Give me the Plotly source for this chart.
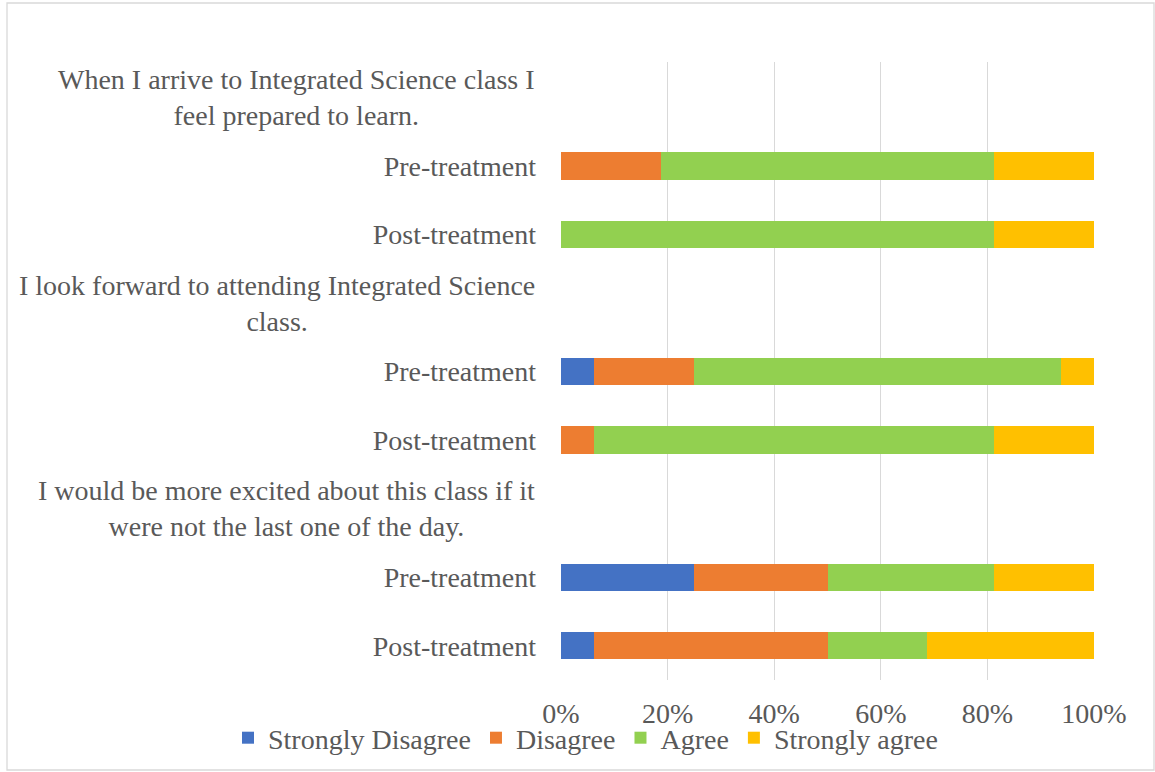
import plotly.graph_objects as go

# Row ids (top to bottom), their tick labels, and question annotations
row_ids = ["Q1", "Q1 Pre", "Q1 Post", "Q2", "Q2 Pre", "Q2 Post", "Q3", "Q3 Pre", "Q3 Post"]
row_labels = ["", "Pre-treatment", "Post-treatment",
              "", "Pre-treatment", "Post-treatment",
              "", "Pre-treatment", "Post-treatment"]
question_ids = ["Q1", "Q2", "Q3"]
question_texts = [
    "When I arrive to Integrated Science class I<br>feel prepared to learn.",
    "I look forward to attending Integrated Science<br>class.",
    "I would be more excited about this class if it<br>were not the last one of the day.",
]

series_names = ["Strongly Disagree", "Disagree", "Agree", "Strongly agree"]
series_colors = ["#4472C4", "#ED7D31", "#92D050", "#FFC000"]

# Shares per row (question header rows have no bars)
strongly_disagree = [None, 0.0, 0.0, None, 0.0625, 0.0, None, 0.25, 0.0625]
disagree = [None, 0.1875, 0.0, None, 0.1875, 0.0625, None, 0.25, 0.4375]
agree = [None, 0.625, 0.8125, None, 0.6875, 0.75, None, 0.3125, 0.1875]
strongly_agree = [None, 0.1875, 0.1875, None, 0.0625, 0.1875, None, 0.1875, 0.3125]
series_values = [strongly_disagree, disagree, agree, strongly_agree]

x_ticks = [0, 0.2, 0.4, 0.6, 0.8, 1.0]

FONT = "Liberation Serif, Times New Roman, serif"
TXT = "#595959"
GRID = "#d9d9d9"

fig = go.Figure()
for name, color, vals in zip(series_names, series_colors, series_values):
    fig.add_trace(go.Bar(
        y=row_ids, x=vals, name=name, orientation="h",
        marker=dict(color=color, line=dict(width=0)),
    ))

W, H = 1155, 772
ml, mr, mt, mb = 561, 61, 62, 92
pw, ph = W - ml - mr, H - mt - mb

annotations = []
for qid, qtxt in zip(question_ids, question_texts):
    annotations.append(dict(
        xref="paper", yref="y", x=(537 - ml) / pw, y=qid,
        text=qtxt, showarrow=False, xanchor="right", yanchor="middle",
        align="center", font=dict(family=FONT, size=28, color=TXT),
    ))

fig.update_layout(
    width=W, height=H,
    margin=dict(l=ml, r=mr, t=mt, b=mb, pad=0, autoexpand=False),
    barmode="stack", bargap=0.6,
    plot_bgcolor="white", paper_bgcolor="white",
    font=dict(family=FONT, size=28, color=TXT),
    xaxis=dict(range=[0, 1], tickvals=x_ticks, tickformat=".0%",
               showgrid=True, gridcolor=GRID, gridwidth=1.3,
               zeroline=False, showline=False, ticks="",
               ticklabelstandoff=14, automargin=False),
    yaxis=dict(categoryorder="array", categoryarray=row_ids,
               tickvals=row_ids, ticktext=row_labels,
               autorange="reversed", showgrid=False, zeroline=False,
               showline=False, ticks="", ticklabelstandoff=24, automargin=False),
    legend=dict(orientation="h", xref="paper", xanchor="left", x=(228 - ml) / pw,
                yref="paper", yanchor="middle", y=-(738 - (mt + ph)) / ph,
                bgcolor="rgba(0,0,0,0)",
                font=dict(family=FONT, size=28, color=TXT),
                itemwidth=30, tracegroupgap=0, traceorder="normal"),
    annotations=annotations,
    shapes=[dict(type="rect", xref="paper", yref="paper",
                 x0=(7 - ml) / pw, x1=(1154 - ml) / pw,
                 y0=-(770 - (mt + ph)) / ph, y1=1 + (mt - 3) / ph,
                 line=dict(color=GRID, width=1.3), layer="below")],
    showlegend=True,
)

fig.write_html("out.html", config={"displayModeBar": False},
               post_script="document.body.style.margin='0px';")
